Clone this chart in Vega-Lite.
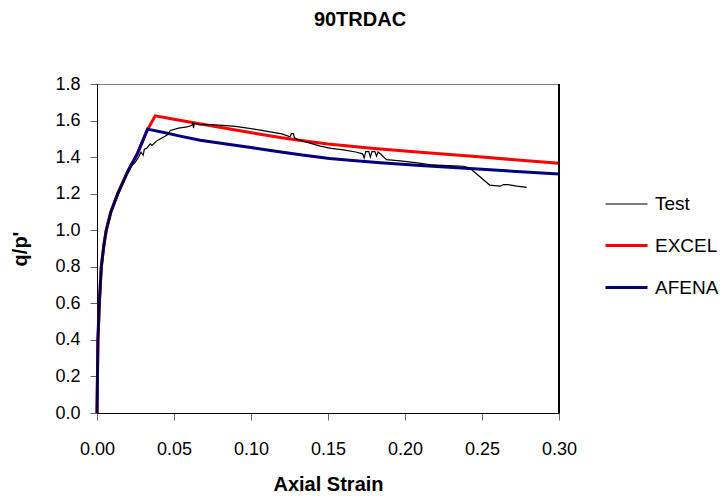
{
  "$schema": "https://vega.github.io/schema/vega-lite/v6.json",
  "width": 462,
  "height": 329,
  "autosize": {"type": "none"},
  "padding": {"left": 97, "top": 84, "right": 163, "bottom": 88},
  "background": "white",
  "title": {
    "text": "90TRDAC",
    "font": "Liberation Sans",
    "fontSize": 20,
    "fontWeight": "bold",
    "color": "black",
    "anchor": "middle",
    "dx": 32,
    "offset": 45
  },
  "config": {
    "font": "Liberation Sans",
    "view": {"stroke": "#808080", "strokeWidth": 1},
    "axis": {
      "grid": false,
      "domainColor": "black",
      "domainWidth": 1,
      "tickColor": "#666666",
      "tickSize": 7,
      "labelFont": "Liberation Sans",
      "labelFontSize": 18,
      "labelColor": "black",
      "titleFont": "Liberation Sans",
      "titleFontSize": 20,
      "titleFontWeight": "bold",
      "titleColor": "black"
    }
  },
  "data": {
    "values": [
      {"s": "EXCEL", "x": 0, "y": 0},
      {"s": "EXCEL", "x": 0.0003, "y": 0.2},
      {"s": "EXCEL", "x": 0.0006, "y": 0.4},
      {"s": "EXCEL", "x": 0.0015, "y": 0.6},
      {"s": "EXCEL", "x": 0.0028, "y": 0.8},
      {"s": "EXCEL", "x": 0.0045, "y": 0.92},
      {"s": "EXCEL", "x": 0.006, "y": 1.0},
      {"s": "EXCEL", "x": 0.009, "y": 1.1},
      {"s": "EXCEL", "x": 0.0135, "y": 1.2},
      {"s": "EXCEL", "x": 0.0199, "y": 1.32},
      {"s": "EXCEL", "x": 0.0263, "y": 1.42},
      {"s": "EXCEL", "x": 0.0328, "y": 1.55},
      {"s": "EXCEL", "x": 0.0378, "y": 1.626},
      {"s": "EXCEL", "x": 0.05, "y": 1.607},
      {"s": "EXCEL", "x": 0.06, "y": 1.592},
      {"s": "EXCEL", "x": 0.075, "y": 1.57},
      {"s": "EXCEL", "x": 0.09, "y": 1.548},
      {"s": "EXCEL", "x": 0.105, "y": 1.527},
      {"s": "EXCEL", "x": 0.12, "y": 1.506},
      {"s": "EXCEL", "x": 0.135, "y": 1.488},
      {"s": "EXCEL", "x": 0.15, "y": 1.472},
      {"s": "EXCEL", "x": 0.165, "y": 1.459},
      {"s": "EXCEL", "x": 0.18, "y": 1.447},
      {"s": "EXCEL", "x": 0.21, "y": 1.426},
      {"s": "EXCEL", "x": 0.25, "y": 1.4},
      {"s": "EXCEL", "x": 0.3, "y": 1.366},
      {"s": "AFENA", "x": 0, "y": 0},
      {"s": "AFENA", "x": 0.0003, "y": 0.2},
      {"s": "AFENA", "x": 0.0006, "y": 0.4},
      {"s": "AFENA", "x": 0.0015, "y": 0.6},
      {"s": "AFENA", "x": 0.0028, "y": 0.8},
      {"s": "AFENA", "x": 0.0045, "y": 0.92},
      {"s": "AFENA", "x": 0.006, "y": 1.0},
      {"s": "AFENA", "x": 0.009, "y": 1.1},
      {"s": "AFENA", "x": 0.0135, "y": 1.2},
      {"s": "AFENA", "x": 0.0199, "y": 1.32},
      {"s": "AFENA", "x": 0.0263, "y": 1.42},
      {"s": "AFENA", "x": 0.0328, "y": 1.553},
      {"s": "AFENA", "x": 0.045, "y": 1.532},
      {"s": "AFENA", "x": 0.054, "y": 1.515},
      {"s": "AFENA", "x": 0.067, "y": 1.492},
      {"s": "AFENA", "x": 0.085, "y": 1.47},
      {"s": "AFENA", "x": 0.1, "y": 1.452},
      {"s": "AFENA", "x": 0.115, "y": 1.433},
      {"s": "AFENA", "x": 0.132, "y": 1.413},
      {"s": "AFENA", "x": 0.151, "y": 1.393},
      {"s": "AFENA", "x": 0.17, "y": 1.379},
      {"s": "AFENA", "x": 0.184, "y": 1.369},
      {"s": "AFENA", "x": 0.21, "y": 1.354},
      {"s": "AFENA", "x": 0.25, "y": 1.333},
      {"s": "AFENA", "x": 0.3, "y": 1.307},
      {"s": "Test", "x": 0, "y": 0},
      {"s": "Test", "x": 0.0003, "y": 0.2},
      {"s": "Test", "x": 0.0006, "y": 0.4},
      {"s": "Test", "x": 0.0015, "y": 0.6},
      {"s": "Test", "x": 0.0028, "y": 0.8},
      {"s": "Test", "x": 0.0045, "y": 0.92},
      {"s": "Test", "x": 0.006, "y": 1.0},
      {"s": "Test", "x": 0.009, "y": 1.1},
      {"s": "Test", "x": 0.0135, "y": 1.2},
      {"s": "Test", "x": 0.0185, "y": 1.29},
      {"s": "Test", "x": 0.0217, "y": 1.345},
      {"s": "Test", "x": 0.0249, "y": 1.373},
      {"s": "Test", "x": 0.027, "y": 1.4},
      {"s": "Test", "x": 0.0286, "y": 1.427},
      {"s": "Test", "x": 0.03, "y": 1.41},
      {"s": "Test", "x": 0.0307, "y": 1.442},
      {"s": "Test", "x": 0.0324, "y": 1.45},
      {"s": "Test", "x": 0.0346, "y": 1.473},
      {"s": "Test", "x": 0.0357, "y": 1.464},
      {"s": "Test", "x": 0.039, "y": 1.49},
      {"s": "Test", "x": 0.0432, "y": 1.51},
      {"s": "Test", "x": 0.0454, "y": 1.519},
      {"s": "Test", "x": 0.0476, "y": 1.546},
      {"s": "Test", "x": 0.053, "y": 1.559},
      {"s": "Test", "x": 0.0584, "y": 1.565},
      {"s": "Test", "x": 0.0617, "y": 1.574},
      {"s": "Test", "x": 0.0622, "y": 1.59},
      {"s": "Test", "x": 0.0627, "y": 1.558},
      {"s": "Test", "x": 0.0632, "y": 1.585},
      {"s": "Test", "x": 0.066, "y": 1.578},
      {"s": "Test", "x": 0.075, "y": 1.578},
      {"s": "Test", "x": 0.09, "y": 1.568},
      {"s": "Test", "x": 0.106, "y": 1.548},
      {"s": "Test", "x": 0.12, "y": 1.527},
      {"s": "Test", "x": 0.1254, "y": 1.511},
      {"s": "Test", "x": 0.1262, "y": 1.528},
      {"s": "Test", "x": 0.1275, "y": 1.528},
      {"s": "Test", "x": 0.1282, "y": 1.506},
      {"s": "Test", "x": 0.13, "y": 1.497},
      {"s": "Test", "x": 0.145, "y": 1.46},
      {"s": "Test", "x": 0.152, "y": 1.448},
      {"s": "Test", "x": 0.16, "y": 1.44},
      {"s": "Test", "x": 0.168, "y": 1.428},
      {"s": "Test", "x": 0.1725, "y": 1.418},
      {"s": "Test", "x": 0.1735, "y": 1.395},
      {"s": "Test", "x": 0.1745, "y": 1.43},
      {"s": "Test", "x": 0.1765, "y": 1.43},
      {"s": "Test", "x": 0.1775, "y": 1.4},
      {"s": "Test", "x": 0.1785, "y": 1.43},
      {"s": "Test", "x": 0.1805, "y": 1.43},
      {"s": "Test", "x": 0.1815, "y": 1.405},
      {"s": "Test", "x": 0.1825, "y": 1.428},
      {"s": "Test", "x": 0.184, "y": 1.418},
      {"s": "Test", "x": 0.188, "y": 1.386},
      {"s": "Test", "x": 0.197, "y": 1.379},
      {"s": "Test", "x": 0.208, "y": 1.368},
      {"s": "Test", "x": 0.218, "y": 1.357},
      {"s": "Test", "x": 0.238, "y": 1.35},
      {"s": "Test", "x": 0.242, "y": 1.34},
      {"s": "Test", "x": 0.255, "y": 1.247},
      {"s": "Test", "x": 0.2617, "y": 1.241},
      {"s": "Test", "x": 0.264, "y": 1.25},
      {"s": "Test", "x": 0.2665, "y": 1.25},
      {"s": "Test", "x": 0.2726, "y": 1.241},
      {"s": "Test", "x": 0.279, "y": 1.234}
    ]
  },
  "encoding": {
    "x": {
      "field": "x",
      "type": "quantitative",
      "title": "Axial Strain",
      "scale": {"domain": [0, 0.3], "nice": false, "zero": false},
      "axis": {
        "values": [0, 0.05, 0.1, 0.15, 0.2, 0.25, 0.3],
        "format": ".2f",
        "labelPadding": 20,
        "titlePadding": 16,
        "labelFlush": false,
        "labelOverlap": false
      }
    },
    "y": {
      "field": "y",
      "type": "quantitative",
      "title": "q/p'",
      "scale": {"domain": [0, 1.8], "nice": false},
      "axis": {
        "values": [0, 0.2, 0.4, 0.6, 0.8, 1.0, 1.2, 1.4, 1.6, 1.8],
        "format": ".1f",
        "labelPadding": 10,
        "titlePadding": 24,
        "labelFlush": false,
        "labelOverlap": false
      }
    },
    "color": {
      "field": "s",
      "type": "nominal",
      "scale": {"domain": ["Test", "EXCEL", "AFENA"], "range": ["#000000", "#FF0000", "#000080"]},
      "legend": {
        "title": null,
        "orient": "none",
        "legendX": 507,
        "legendY": 98,
        "padding": 0,
        "symbolType": "stroke",
        "symbolSize": 1764,
        "rowPadding": 9,
        "labelOffset": 6,
        "labelFont": "Liberation Sans",
        "labelFontSize": 19,
        "labelColor": "black"
      }
    },
    "strokeWidth": {
      "field": "s",
      "type": "nominal",
      "scale": {"type": "ordinal", "domain": ["Test", "EXCEL", "AFENA"], "range": [1.2, 3, 3]}
    }
  },
  "layer": [
    {
      "transform": [{"filter": "datum.s === 'EXCEL'"}],
      "mark": {"type": "line", "interpolate": "linear"}
    },
    {
      "transform": [{"filter": "datum.s === 'AFENA'"}],
      "mark": {"type": "line", "interpolate": "linear"}
    },
    {
      "transform": [{"filter": "datum.s === 'Test'"}],
      "mark": {"type": "line", "interpolate": "linear"}
    },
    {
      "mark": {"type": "rule", "color": "black", "strokeWidth": 1},
      "encoding": {
        "x": {"datum": 0.3},
        "y": null,
        "color": null,
        "strokeWidth": null
      }
    }
  ]
}
